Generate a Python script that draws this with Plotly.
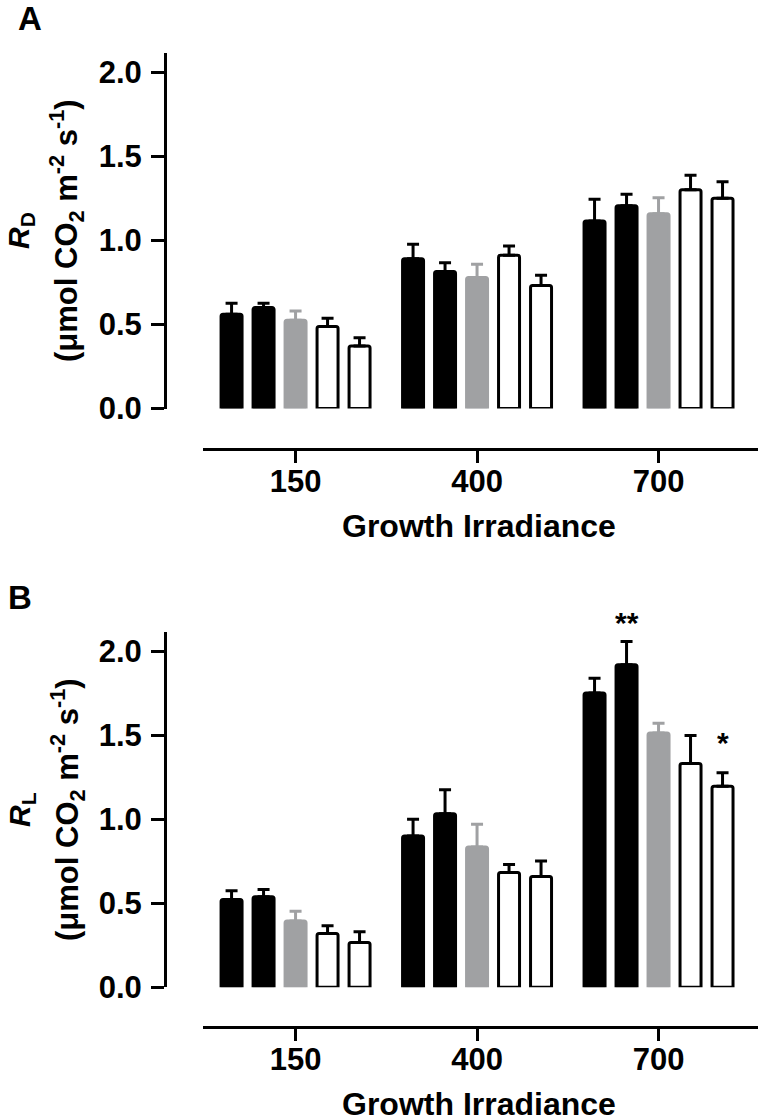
import plotly.graph_objects as go

W, H = 760, 1117

# ---------------- data ----------------
irradiance = ["150", "400", "700"]
series_names = ["Series 1", "Series 2", "Series 3", "Series 4", "Series 5"]

# Panel A: R_D (mean, SE)
rd_s1 = [0.560, 0.890, 1.114]
rd_s2 = [0.600, 0.814, 1.205]
rd_s3 = [0.525, 0.779, 1.157]
rd_s4 = [0.487, 0.911, 1.300]
rd_s5 = [0.371, 0.731, 1.250]
rd_s1_err = [0.065, 0.086, 0.130]
rd_s2_err = [0.025, 0.053, 0.068]
rd_s3_err = [0.055, 0.078, 0.096]
rd_s4_err = [0.049, 0.055, 0.086]
rd_s5_err = [0.049, 0.061, 0.098]

# Panel B: R_L (mean, SE)
rl_s1 = [0.523, 0.900, 1.751]
rl_s2 = [0.539, 1.033, 1.920]
rl_s3 = [0.395, 0.835, 1.514]
rl_s4 = [0.320, 0.684, 1.332]
rl_s5 = [0.266, 0.660, 1.197]
rl_s1_err = [0.051, 0.100, 0.089]
rl_s2_err = [0.043, 0.143, 0.138]
rl_s3_err = [0.058, 0.135, 0.058]
rl_s4_err = [0.046, 0.047, 0.167]
rl_s5_err = [0.064, 0.092, 0.080]

# significance marks in panel B: (series index, irradiance, label)
rl_marks = [(1, "700", "**"), (4, "700", "*")]
mark_gap = [1, 12]  # px gap above error cap (styling)

y_ticks = [0.0, 0.5, 1.0, 1.5, 2.0]

# ---------------- styling ----------------
fills = ["#000000", "#000000", "#a0a1a3", "#ffffff", "#ffffff"]
edges = ["#000000", "#000000", "#a0a1a3", "#000000", "#000000"]
FONT = "Liberation Sans"

rd_means = [rd_s1, rd_s2, rd_s3, rd_s4, rd_s5]
rd_errs = [rd_s1_err, rd_s2_err, rd_s3_err, rd_s4_err, rd_s5_err]
rl_means = [rl_s1, rl_s2, rl_s3, rl_s4, rl_s5]
rl_errs = [rl_s1_err, rl_s2_err, rl_s3_err, rl_s4_err, rl_s5_err]

fig = go.Figure()

for ax_x, ax_y, means, errs in [("x", "y", rd_means, rd_errs),
                                 ("x2", "y2", rl_means, rl_errs)]:
    for i in range(5):
        fig.add_trace(go.Bar(
            x=irradiance, y=means[i], name=series_names[i],
            xaxis=ax_x, yaxis=ax_y, showlegend=False, hoverinfo="skip",
            marker=dict(color=fills[i], line=dict(color=edges[i], width=3),
                        cornerradius=2),
            error_y=dict(type="data", symmetric=False, array=errs[i],
                         arrayminus=[0] * len(errs[i]), color=edges[i],
                         thickness=3, width=6),
        ))

def px_x(p):
    return p / W

def px_y(p):
    return 1 - p / H

XR = [-0.51, 2.548]
YR = [0, 2.113]

common_x = dict(range=XR, type="category", anchor="free", showline=True,
                linewidth=3, linecolor="black", ticks="outside", ticklen=12,
                tickwidth=3, tickcolor="black", showgrid=False, zeroline=False,
                automargin=False, fixedrange=True, ticklabelstandoff=-8,
                tickfont=dict(family=FONT, size=31, color="black", weight="bold"))
common_y = dict(range=YR, anchor="free", position=px_x(165), showline=True,
                linewidth=3, linecolor="black", ticks="outside", ticklen=13,
                tickwidth=3, tickcolor="black", showgrid=False, zeroline=False,
                tickvals=y_ticks, tickformat=".1f", automargin=False,
                ticklabelstandoff=3, fixedrange=True,
                tickfont=dict(family=FONT, size=31, color="black", weight="bold"))

fig.update_layout(
    width=W, height=H, margin=dict(l=0, r=0, t=0, b=0),
    template="none", paper_bgcolor="white", plot_bgcolor="rgba(0,0,0,0)",
    barmode="group", bargap=0.1185, bargroupgap=0.344,
    xaxis=dict(domain=[px_x(203), px_x(758)], position=px_y(449), **common_x),
    yaxis=dict(domain=[px_y(408.5), px_y(53)], **common_y),
    xaxis2=dict(domain=[px_x(203), px_x(758)], position=px_y(1027), **common_x),
    yaxis2=dict(domain=[px_y(987.3), px_y(632.3)], **common_y),
)

C = dict(xanchor="center", yanchor="middle", showarrow=False,
         xref="paper", yref="paper")
ann = []
# panel letters
ann.append(dict(text="<b>A</b>", x=px_x(30), y=px_y(19),
                font=dict(family=FONT, size=33, color="black"), **C))
ann.append(dict(text="<b>B</b>", x=px_x(20), y=px_y(597),
                font=dict(family=FONT, size=33, color="black"), **C))
# y titles
for cy, sym in [(231, "D"), (810, "L")]:
    ann.append(dict(text=f"<b><i>R</i><sub>{sym}</sub></b>", x=px_x(21), y=px_y(cy),
                    textangle=-90, font=dict(family=FONT, size=30, color="black"), **C))
    ann.append(dict(text="<b>(\u03bcmol CO<sub>2</sub> m<sup>-2</sup> s<sup>-1</sup>)</b>",
                    x=px_x(67), y=px_y(cy), textangle=-90,
                    font=dict(family=FONT, size=31, color="black"), **C))
# x titles
for cy in [526, 1104]:
    ann.append(dict(text="<b>Growth Irradiance</b>", x=px_x(479), y=px_y(cy),
                    font=dict(family=FONT, size=32, color="black"), **C))
# significance marks
for (si, cat, lab), gap in zip(rl_marks, mark_gap):
    k = irradiance.index(cat)
    top = rl_means[si][k] + rl_errs[si][k]
    ann.append(dict(text=f"<b>{lab}</b>", x=k, y=top, xref="x2", yref="y2",
                    xanchor="center", yanchor="bottom",
                    xshift=(si - 2) * 32, yshift=gap,
                    showarrow=False, font=dict(family=FONT, size=30, color="black")))

fig.update_layout(annotations=ann)
fig.write_html("out.html", config={"displayModeBar": False},
               post_script="document.body.style.margin='0';"
                           "document.body.style.overflow='hidden';")
